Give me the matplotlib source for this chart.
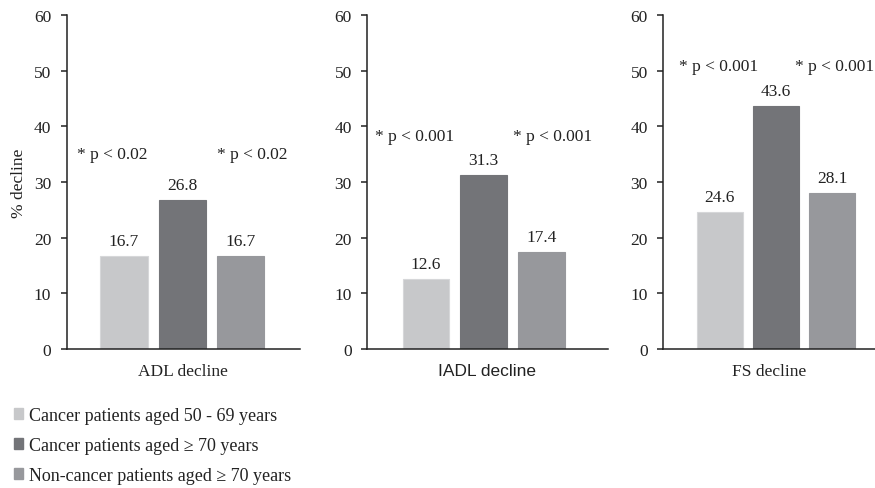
import matplotlib
matplotlib.use("Agg")
import matplotlib.pyplot as plt
from matplotlib.patches import Patch

# ---- data ----
panels = ["ADL decline", "IADL decline", "FS decline"]
groups = ["Cancer patients aged 50 - 69 years",
          "Cancer patients aged \u2265 70 years",
          "Non-cancer patients aged \u2265 70 years"]
adl = [16.7, 26.8, 16.7]
iadl = [12.6, 31.3, 17.4]
fs = [24.6, 43.6, 28.1]
pvals = ["* p < 0.02", "* p < 0.001", "* p < 0.001"]
yticks = [0, 10, 20, 30, 40, 50, 60]

values = [adl, iadl, fs]
colors = ["#c7c8ca", "#737478", "#97989c"]
edgecols = ["#d6d7d9", "#737478", "#97989c"]

SERIF = "Liberation Serif"
SANS = "Liberation Sans"
TXT = "#222222"
FS_ = 12.5

W, H = 875, 489
fig = plt.figure(figsize=(W / 100, H / 100), dpi=100)

# pixel layout: (left, right) axis extents and xlims
boxes = [(66.5, 300), (367, 608), (663, 875)]
xlims = [(-0.99, 3.03), (-1.02, 3.15), (-1.01, 2.76)]
p_pos = [((-0.2, 35.0), (2.21, 35.0)),
         ((-0.19, 38.3), (2.19, 38.3)),
         ((-0.03, 50.8), (2.04, 50.8))]
label_fonts = [SERIF, SANS, SERIF]

y0, y1 = 350, 16
axes = []
for i, (l, r) in enumerate(boxes):
    ax = fig.add_axes([l / W, (H - y0) / H, (r - l) / W, (y0 - y1) / H])
    axes.append(ax)
    xs = range(len(values[i]))
    bars = ax.bar(xs, values[i], width=0.81, color=colors,
                  edgecolor=edgecols, linewidth=0.8, zorder=2)
    for b, v in zip(bars, values[i]):
        ax.annotate(f"{v:.1f}", (b.get_x() + b.get_width() / 2, v),
                    xytext=(0, 5), textcoords="offset points",
                    ha="center", va="bottom", fontsize=FS_,
                    family=SERIF, color=TXT)
    for (px, py) in p_pos[i]:
        ax.text(px, py, pvals[i], ha="center", va="center",
                fontsize=FS_, family=SERIF, color=TXT)
    ax.set_xlim(*xlims[i])
    ax.set_ylim(0, 60)
    ax.set_yticks(yticks)
    ax.set_yticklabels([str(t) for t in yticks], family=SERIF,
                       fontsize=FS_, color=TXT)
    ax.set_xticks([])
    ax.set_xlabel(panels[i], family=label_fonts[i], fontsize=FS_,
                  color=TXT, labelpad=10)
    for s in ["top", "right"]:
        ax.spines[s].set_visible(False)
    for s in ["left", "bottom"]:
        ax.spines[s].set_color("#222222")
        ax.spines[s].set_linewidth(1.1)
    ax.tick_params(axis="y", direction="out", length=4, width=1.1,
                   color="#222222", pad=7)

axes[0].set_ylabel("% decline", family=SERIF, fontsize=FS_, color=TXT,
                   labelpad=5)

handles = [Patch(facecolor=c, edgecolor=c) for c in colors]
leg = fig.legend(handles, groups, loc="upper left",
                 bbox_to_anchor=(14 / W, (H - 408) / H),
                 frameon=False, handlelength=0.5, handleheight=0.5,
                 handletextpad=0.35, labelspacing=0.72, borderaxespad=0,
                 borderpad=0,
                 prop={"family": SERIF, "size": 13})
for t in leg.get_texts():
    t.set_color(TXT)

fig.savefig("out.png", dpi=100)
